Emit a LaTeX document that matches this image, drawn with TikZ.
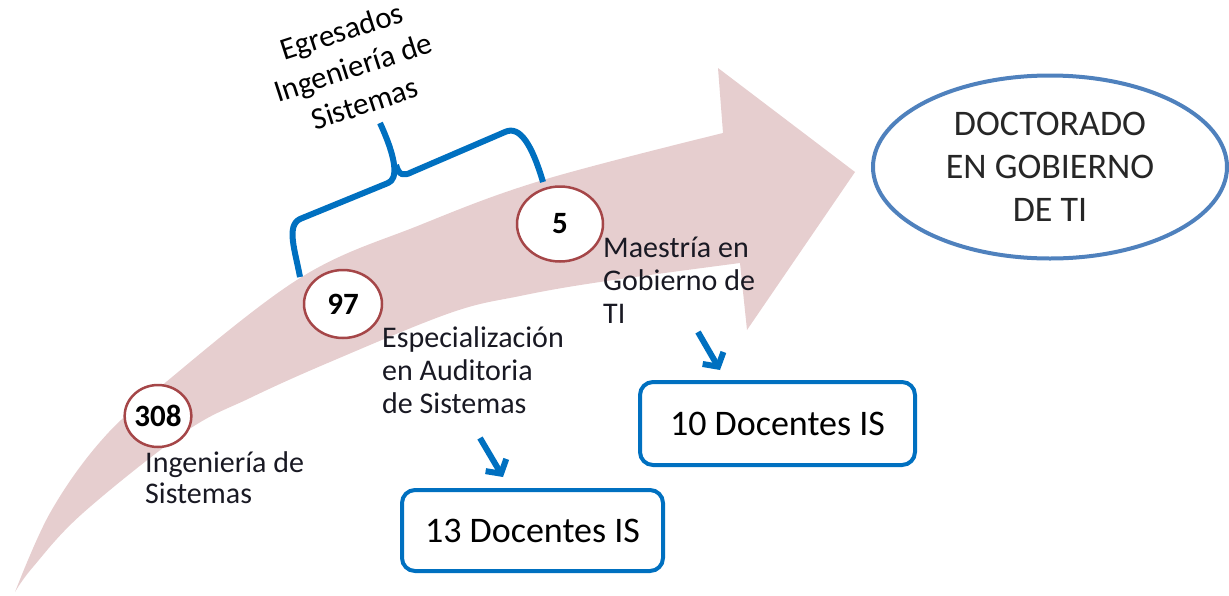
\documentclass[tikz,border=0pt]{standalone}
\usepackage{fontspec}
\setmainfont{Carlito}
\usetikzlibrary{shapes.geometric,arrows.meta}
\definecolor{arrowpink}{RGB}{230,206,207}
\definecolor{circred}{RGB}{165,70,72}
\definecolor{braceblue}{RGB}{0,112,192}
\definecolor{ellblue}{RGB}{79,129,189}
\definecolor{labeltext}{RGB}{25,25,35}
\begin{document}
\begin{tikzpicture}[x=1pt,y=-1pt,
  stage/.style={ellipse, draw=circred, line width=2.5pt, fill=white, inner sep=0pt, font=\fontsize{31}{32}\selectfont\bfseries},
  lbl/.style={anchor=base west, align=left, inner sep=0pt, text=labeltext},
  docbox/.style={draw=braceblue, line width=4pt, rounded corners=13pt, fill=white, font=\fontsize{36}{40}\selectfont, inner sep=0pt},
  bracestroke/.style={draw=braceblue, line width=6pt, line join=round},
  smallarrow/.style={draw=braceblue, line width=6pt, -{Straight Barb[length=10pt,width=24pt]}}
]
\useasboundingbox (0,0) rectangle (1229,595);
% big curved arrow
\fill[arrowpink] plot[smooth, tension=0.6] coordinates {(15,592) (50,513) (100,442) (160,387) (300,278) (420,225) (543,180) (723,133)}
  -- (718,68) -- (855,172) -- (747,330) -- (740,263)
  -- plot[smooth, tension=0.6] coordinates {(740,263) (600,282) (520,296) (450,313) (330,362) (250,398) (185,432) (83,513) (33,567) (15,592)} -- cycle;
% brace
\draw[bracestroke] (300,277) .. controls (295,250) and (286,226) .. (300,219) -- (388,183) .. controls (398,179) and (397,160) .. (380,123);
\draw[bracestroke] (396,165) .. controls (399,176) and (404,176) .. (412,172) -- (505,132) .. controls (520,125) and (532,145) .. (543,182);
\node[rotate=18, align=center, font=\fontsize{31}{38}\selectfont] (eg) at (353,67) {Egresados\\Ingeniería de\\Sistemas};
% stages
\node[stage, minimum width=60pt, minimum height=62pt] (n308) at (158,416) {308};
\node[stage, minimum width=78pt, minimum height=68pt] (n97) at (343,304) {97};
\node[stage, minimum width=86pt, minimum height=75pt] (n5) at (560,224) {5};
\node[lbl, font=\fontsize{30}{31}\selectfont] (l1) at (145,503) {Ingeniería de\\Sistemas};
\node[lbl, font=\fontsize{30}{33}\selectfont] (l2) at (382,413) {Especialización\\en Auditoria\\de Sistemas};
\node[lbl, font=\fontsize{30}{33}\selectfont] (l3) at (603,323) {Maestría en\\Gobierno de\\TI};
% boxes
\node[docbox, minimum width=261pt, minimum height=81pt] (b13) at (532.5,530.5) {13 Docentes IS};
\node[docbox, minimum width=275pt, minimum height=83pt] (b10) at (777.5,423.5) {10 Docentes IS};
\coordinate (s1) at (480,438);
\coordinate (e1) at (503,477);
\coordinate (s2) at (698,332);
\coordinate (e2) at (720,370);
\draw[smallarrow] (s1) -- (e1);
\draw[smallarrow] (s2) -- (e2);
% doctorado
\node[ellipse, draw=ellblue, line width=4pt, minimum width=354pt, minimum height=183pt, inner sep=0pt, align=center, text={rgb,255:red,38;green,38;blue,38}, font=\fontsize{36}{43}\selectfont] (doc) at (1050,167) {DOCTORADO\\EN GOBIERNO\\DE TI};
\end{tikzpicture}
\end{document}
